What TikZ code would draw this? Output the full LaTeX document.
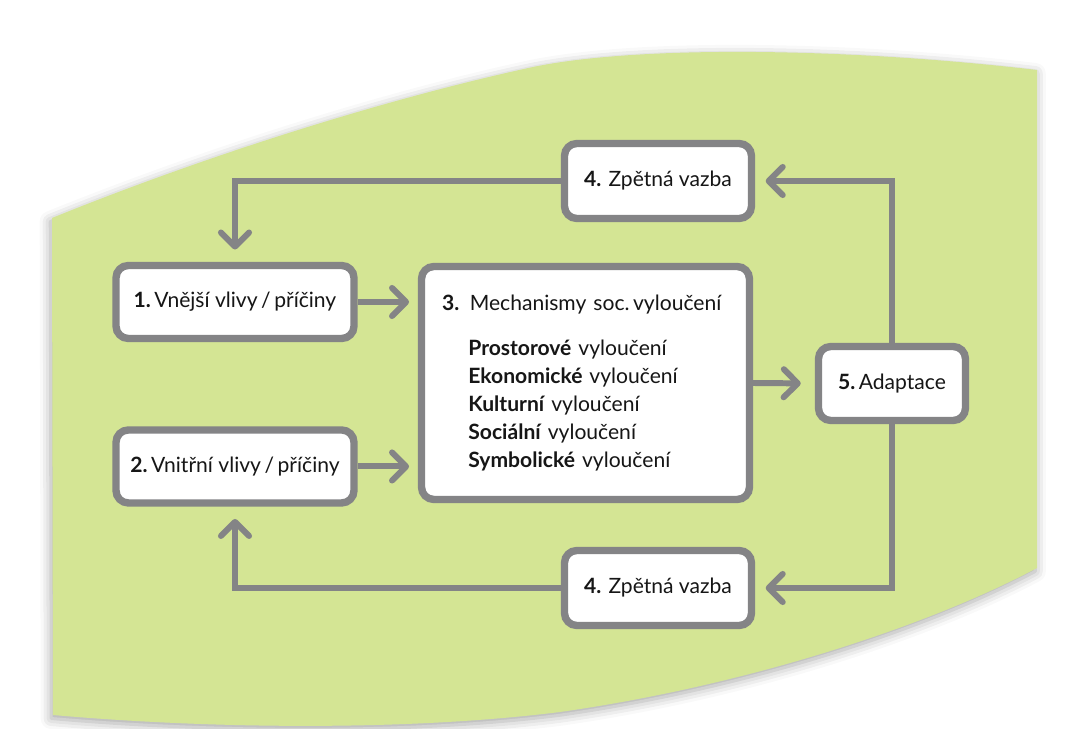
\documentclass[tikz,border=0pt]{standalone}
\usepackage{fontspec}
\setmainfont{Lato}
\usetikzlibrary{arrows.meta,positioning,shadows.blur}

\definecolor{bggreen}{RGB}{212,229,148}
\definecolor{linegray}{RGB}{132,132,134}
\definecolor{textdark}{RGB}{22,22,22}

\tikzset{
  box/.style={draw=linegray, line width=4.2pt, fill=white, rounded corners=7pt,
    inner sep=0pt, text=textdark, font=\fontsize{12}{15.9}\selectfont},
  flow/.style={draw=linegray, line width=3.4pt, shorten >=8pt,
    -{Straight Barb[length=8pt,width=16pt,round]}},
}

\begin{document}
\begin{tikzpicture}[x=0.02cm, y=-0.02cm, node distance=3.29cm]
  \useasboundingbox (0,0) rectangle (1073,729);

  % green background
  \fill[bggreen, blur shadow={shadow xshift=-1pt, shadow yshift=-2pt, shadow blur radius=6pt, shadow opacity=35}]
    (52,218) .. controls (200,158) and (380,100) .. (533,67)
    .. controls (640,45) and (850,48) .. (1037,70)
    -- (1037,568) .. controls (930,625) and (750,685) .. (560,712)
    .. controls (400,732) and (200,728) .. (53,715) -- cycle;

  % boxes
  \node[box, minimum width=4.76cm, minimum height=1.46cm] (ext) at (235,302)
    {{\bfseries 1.}\,Vnější vlivy\,/\,příčiny};
  \node[box, minimum width=4.76cm, minimum height=1.46cm, below of=ext] (int)
    {{\bfseries 2.}\,Vnitřní vlivy\,/\,příčiny};
  \node[box, minimum width=6.56cm, minimum height=4.66cm, text width=5.74cm, align=left] (mech) at (585.5,383)
    {{\bfseries 3.} Mechanismy soc.\,vyloučení\\[10pt]
     \hspace*{15pt}{\bfseries Prostorové} vyloučení\\
     \hspace*{15pt}{\bfseries Ekonomické} vyloučení\\
     \hspace*{15pt}{\bfseries Kulturní} vyloučení\\
     \hspace*{15pt}{\bfseries Sociální} vyloučení\\
     \hspace*{15pt}{\bfseries Symbolické} vyloučení};
  \node[box, minimum width=3.74cm, minimum height=1.5cm] (fbtop) at (658,181)
    {{\bfseries 4.} Zpětná vazba};
  \node[box, minimum width=3.74cm, minimum height=1.5cm] (fbbot) at (658,588)
    {{\bfseries 4.} Zpětná vazba};
  \node[box, minimum width=2.94cm, minimum height=1.48cm] (adapt) at (892,383.5)
    {{\bfseries 5.}\,Adaptace};

  % connectors
  \draw[flow, shorten >=5pt] (ext.east) -- (mech.west |- ext.east);
  \draw[flow, shorten >=5pt] (int.east) -- (mech.west |- int.east);
  \draw[flow] (mech.east) -- (adapt.west);
  \draw[flow, shorten >=6pt] (adapt.north) |- (fbtop.east);
  \draw[flow, shorten >=6pt] (adapt.south) |- (fbbot.east);
  \draw[flow, shorten >=7pt] (fbtop.west) -| (ext.north);
  \draw[flow, shorten >=7pt] (fbbot.west) -| (int.south);
\end{tikzpicture}
\end{document}
